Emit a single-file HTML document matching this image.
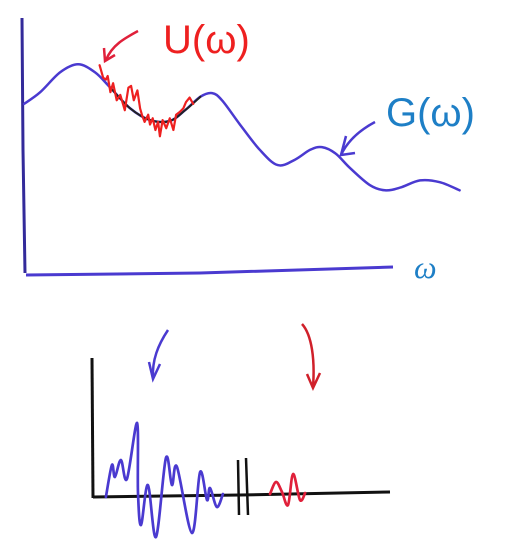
<!DOCTYPE html>
<html><head><meta charset="utf-8"><style>
html,body{margin:0;padding:0;background:#fff;}
svg{display:block;}
text{font-family:"Liberation Sans",sans-serif;}
</style></head><body>
<svg id="s" width="519" height="542" viewBox="0 0 519 542">
<g id="top">
<path d="M22,18 L23,150 L25,273" stroke="#332a9a" stroke-width="3" fill="none"/>
<path d="M26,275 L200,273 L393,267" stroke="#4a3ad0" stroke-width="3" fill="none"/>
<text x="414" y="278" font-size="32" font-style="italic" fill="#1e7fc6" style="font-family:'Liberation Serif',serif">ω</text>
<text x="163" y="53" font-size="40" fill="#ee2020">U(ω)</text>
<text x="386" y="126" font-size="40" fill="#1e7fc6">G(ω)</text>
<path d="M138,31 C125,38 112,45 106,60" stroke="#e0203a" stroke-width="2.5" fill="none"/>
<path d="M104,48 L105,61 L115,55" stroke="#e0203a" stroke-width="2.5" fill="none"/>
<path d="M375,122 C360,130 348,140 341,155" stroke="#4a3ad0" stroke-width="2.5" fill="none"/>
<path d="M346,136 L341,155 L355,153" stroke="#4a3ad0" stroke-width="2.5" fill="none"/>
</g>
<g id="bot">
<path d="M92,358 L93,498" stroke="#111" stroke-width="3" fill="none"/>
<path d="M93,497 L240,495 L390,492" stroke="#111" stroke-width="3" fill="none"/>
<path d="M238,460 L239,515 M246,458 L248,515" stroke="#111" stroke-width="2.5" fill="none"/>
<path d="M168,330 C158,345 152,360 153,378" stroke="#4a3ad0" stroke-width="2.5" fill="none"/>
<path d="M149,362 L153,379 L160,364" stroke="#4a3ad0" stroke-width="2.5" fill="none"/>
<path d="M302,324 C312,335 315,360 313,387" stroke="#d0202a" stroke-width="2.5" fill="none"/>
<path d="M307,374 L313,388 L320,373" stroke="#d0202a" stroke-width="2.5" fill="none"/>
</g>
</svg>
<script>
var gOmega=[0,1.8,4,6,7.9,9.6,11.8,14,16.2,17.9,19.6,20.9,22,24,26.2,28.2,30.1,31.8,33.1,34.6,36.2,38.4,40.1,41.8,44,46.2,48.4];
var gValues=[18.9,20.2,22.4,23.3,22.4,20.7,18.4,17.1,17,18.2,19.7,20.1,19.3,16.6,13.8,12.1,12.7,13.8,14.1,13.4,11.8,9.9,9.3,9.6,10.4,10.2,9.3];
var uOmega=[8.4,8.8,9.1,9.3,9.6,9.9,10.3,10.7,11.2,11.6,11.9,12.2,12.6,12.9,13.1,13.4,13.8,14,14.3,14.6,14.9,15.1,15.4,15.8,16.2,16.6,16.9,17.3,17.7,18,18.4,18.8];
var uValues=[23.2,21.8,21.6,22,20.2,21.2,19.3,19.9,18.2,20.7,20.9,19.3,20.4,18.4,17.7,16.9,17.7,16.6,17.3,16,16.9,15.3,17.1,16.2,17.3,16,17.7,18,18.4,19.1,19.6,18.9];
var blueT=[4.3,6.3,7.3,9.3,11.3,14.7,15,16,18.3,21,24.3,26.3,28,33,35.7,38,39,41.3,43.3];
var blueV=[-1,15,9,17.5,8,36,1,-15,5,-21,18.5,5,14,-19,11.5,-2.5,3.5,-6,0.5];
var redT=[59,61,63,65,66.7,69,70.7];
var redV=[0.5,6.5,1.5,-5,10.5,-2.5,1];
function sx(w){return 24+w*9;}
function sy(v){return 274-v*9;}
function bx(t){return 93+t*3;}
function by(v){return 495-v*2;}
function smooth(p){
  var d="M"+p[0][0].toFixed(1)+","+p[0][1].toFixed(1);
  for(var i=0;i<p.length-1;i++){
    var p0=p[i-1]||p[i],p1=p[i],p2=p[i+1],p3=p[i+2]||p2;
    var c1x=p1[0]+(p2[0]-p0[0])/6,c1y=p1[1]+(p2[1]-p0[1])/6;
    var c2x=p2[0]-(p3[0]-p1[0])/6,c2y=p2[1]-(p3[1]-p1[1])/6;
    d+=" C"+c1x.toFixed(1)+","+c1y.toFixed(1)+" "+c2x.toFixed(1)+","+c2y.toFixed(1)+" "+p2[0].toFixed(1)+","+p2[1].toFixed(1);
  }
  return d;
}
function mk(parent,d,color,w){
  var el=document.createElementNS("http://www.w3.org/2000/svg","path");
  el.setAttribute("d",d);el.setAttribute("stroke",color);el.setAttribute("stroke-width",w);
  el.setAttribute("fill","none");el.setAttribute("stroke-linejoin","round");el.setAttribute("stroke-linecap","round");
  document.getElementById(parent).appendChild(el);return el;
}
var gp=gOmega.map(function(w,i){return [sx(w),sy(gValues[i])];});
var g=mk("top",smooth(gp),"#4a3ad0",2.5);


var gs=[];for(var i=0;i<gOmega.length;i++){if(gOmega[i]>=9&&gOmega[i]<=20)gs.push(gp[i]);}
var gd=mk("top",smooth(gs),"#222",2);


var up=uOmega.map(function(w,i){return [sx(w),sy(uValues[i])];});
var u=mk("top","M"+up.map(function(p){return p[0].toFixed(1)+","+p[1].toFixed(1);}).join(" L"),"#ee2020",2.2);


var bp=blueT.map(function(t,i){return [bx(t),by(blueV[i])];});
var b=mk("bot",smooth(bp),"#4a3ad0",2.7);


var rp=redT.map(function(t,i){return [bx(t),by(redV[i])];});
var r=mk("bot",smooth(rp),"#e0203a",2.7);


</script>
</body></html>
